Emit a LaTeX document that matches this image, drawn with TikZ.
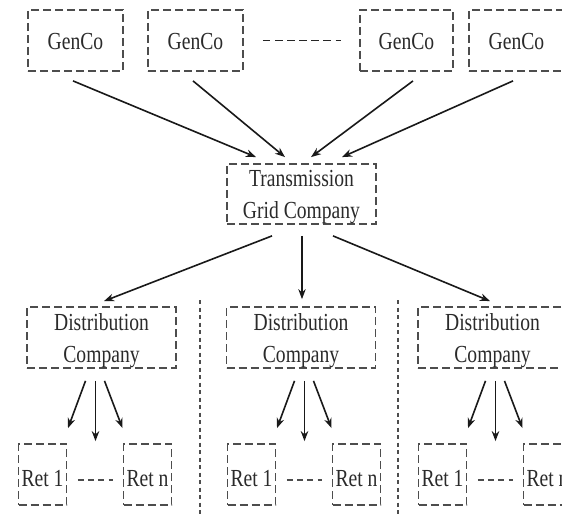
\documentclass[tikz,border=0pt]{standalone}
\usepackage{fontspec}
\setmainfont[FakeStretch=0.8]{Liberation Serif}
\usetikzlibrary{calc,arrows.meta}
\definecolor{boxgray}{HTML}{4D4D4D}
\definecolor{txtgray}{HTML}{2B2B2B}
\begin{document}
\begin{tikzpicture}[x=1pt,y=1pt,
  box/.style={draw=boxgray, line width=1.8pt, dash pattern=on 8pt off 4pt,
    inner sep=0pt, text=txtgray, font=\fontsize{24.5}{31.5}\selectfont, align=center},
  genco/.style={box, minimum width=95pt, minimum height=61pt, text height=19pt, text depth=0pt},
  twoline/.style={box, minimum width=149pt, text depth=0pt},
  ret/.style={box, minimum width=48pt, minimum height=61pt, text height=23pt, text depth=0pt},
  arr/.style={-{Stealth[length=10pt,width=7.5pt]}, line width=1.6pt, black!90},
  gdash/.style={draw=black!85, line width=1.6pt, dash pattern=on 7.5pt off 4.6pt},
  rdash/.style={draw=boxgray, line width=1.6pt, dash pattern=on 6pt off 4.2pt},
  sepline/.style={draw=boxgray, line width=1.1pt, dash pattern=on 4pt off 3.5pt}]
\useasboundingbox (0,0) rectangle (562,515);
\clip (0,0) rectangle (562,515);
\fill[white] (0,0) rectangle (562,515);

% GenCos
\node[genco] (g1) at (75.5,474.5) {GenCo};
\node[genco] (g2) at (195.5,474.5) {GenCo};
\node[genco, minimum width=93pt] (g3) at (406.5,474.5) {GenCo};
\node[genco] (g4) at (516.5,474.5) {GenCo};
\draw[gdash, shorten <=19pt, shorten >=18pt] (g2) -- (g3);

% Transmission
\node[twoline, minimum height=60pt, text height=48pt] (T) at (301.5,321) {Transmission\\Grid Company};

\draw[arr] ($(g1.south)+(-2.5,-9)$) -- ($(T.north)+(-45.5,6)$);
\draw[arr] ($(g2.south)+(-2.5,-9)$) -- ($(T.north)+(-16.5,6)$);
\draw[arr] ($(g3.south)+(6.5,-9)$) -- ($(T.north)+(9.5,6)$);
\draw[arr] ($(g4.south)+(-3.5,-9)$) -- ($(T.north)+(40.5,6)$);

% Distribution
\node[twoline, minimum height=61pt, text height=49pt] (D1) at (101.5,177.5) {Distribution\\Company};
\node[twoline, minimum height=61pt, text height=49pt] (D2) at (301,177.5) {Distribution\\Company};
\node[twoline, minimum height=61pt, text height=49pt] (D3) at (492.5,177.5) {Distribution\\Company};

\draw[arr] ($(T.south)+(-29.5,-11)$) -- ($(D1.north)+(2.5,5)$);
\draw[arr, line width=1.1pt] ($(T.south)+(0.5,-11)$) -- ($(D2.north)+(1,7)$);
\draw[arr] ($(T.south)+(31.5,-11)$) -- ($(D3.north)+(-2.5,5)$);

% separators
\draw[sepline] (200,215) -- (200,0);
\draw[sepline] (398,215) -- (398,0);

% Retailers
\foreach \r/\i in {42.5/1, 251.5/2, 442.5/3} {
  \node[ret] (Ra\i) at (\r,40.5) {Ret 1};
  \node[ret] (Rb\i) at (\r+105,40.5) {Ret n};
  \draw[rdash, shorten <=10.5pt, shorten >=10pt] ($(Ra\i.east)+(0,-5.5)$) -- ($(Rb\i.west)+(0,-5.5)$);
  \draw[arr] ($(D\i.south -| Ra\i.center)+(43,-12)$) -- ($(Ra\i.north)+(25.5,15)$);
  \draw[arr] ($(D\i.south -| Ra\i.center)+(53,-12)$) -- ($(Ra\i.north)+(53,2)$);
  \draw[arr] ($(D\i.south -| Ra\i.center)+(62,-12)$) -- ($(Rb\i.north)+(-25,15)$);
}
\end{tikzpicture}
\end{document}
